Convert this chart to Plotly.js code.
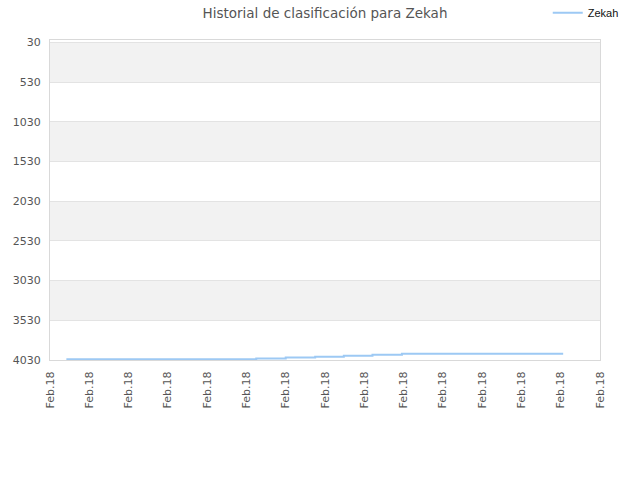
<!DOCTYPE html>
<html>
<head>
<meta charset="utf-8">
<script src="https://cdn.plot.ly/plotly-3.0.1.min.js"></script>
<style>html,body{margin:0;padding:0;background:#fff;}#chart{width:640px;height:480px;}</style>
</head>
<body>
<div id="chart"></div>
<script>
// Data
const seriesName = "Zekah";
const dates = [
  "2018-02-01 10:00", "2018-02-06 06:00", "2018-02-07 00:00", "2018-02-07 18:00",
  "2018-02-08 11:30", "2018-02-09 05:00", "2018-02-09 23:00", "2018-02-14 01:30"
];
const ranks = [4021, 4012, 4000, 3988, 3975, 3963, 3950, 3950];
const yTicks = [30, 530, 1030, 1530, 2030, 2530, 3030, 3530, 4030];
const xTicks = [
  "2018-02-01", "2018-02-02", "2018-02-03", "2018-02-04", "2018-02-05",
  "2018-02-06", "2018-02-07", "2018-02-08", "2018-02-09", "2018-02-10",
  "2018-02-11", "2018-02-12", "2018-02-13", "2018-02-14", "2018-02-15"
];
const xTickText = xTicks.map(() => "Feb.18");
const titleText = "Historial de clasificación para Zekah";

// alternating bands between y tick lines
const shapes = [];
for (let i = 0; i < yTicks.length - 1; i += 2) {
  shapes.push({
    type: "rect", xref: "paper", yref: "y", x0: 0, x1: 1,
    y0: yTicks[i], y1: yTicks[i + 1],
    fillcolor: "#f2f2f2", line: {width: 0}, layer: "below"
  });
}

const trace = {
  x: dates, y: ranks, type: "scatter", mode: "lines", name: seriesName,
  line: {color: "#9dc9f4", width: 2, shape: "hv"}
};

const layout = {
  width: 640, height: 480,
  margin: {l: 50, r: 40, t: 40, b: 120, autoexpand: false},
  paper_bgcolor: "#fff", plot_bgcolor: "#fff",
  font: {family: "DejaVu Sans", size: 11, color: "#555"},
  title: {text: titleText, x: 0.5, xref: "paper", y: 0.973, yanchor: "middle",
          font: {family: "DejaVu Sans", size: 13.5, color: "#555"}},
  showlegend: true,
  legend: {x: 0.905, xanchor: "left", y: 1.085, yanchor: "middle", bgcolor: "rgba(0,0,0,0)",
           font: {family: "Liberation Sans", size: 11, color: "#111"}, itemwidth: 30},
  xaxis: {
    type: "date", range: [xTicks[0], xTicks[xTicks.length - 1]],
    tickmode: "array", tickvals: xTicks, ticktext: xTickText, tickangle: -90,
    showgrid: false, zeroline: false, showline: true, mirror: true,
    linecolor: "#d9d9d9", linewidth: 1, ticks: "", ticklabelstandoff: 6,
    tickfont: {size: 11, color: "#555"}
  },
  yaxis: {
    range: [4030, 0], tickmode: "array", tickvals: yTicks,
    showgrid: true, gridcolor: "#e3e3e3", gridwidth: 1, zeroline: false,
    showline: true, mirror: true, linecolor: "#d9d9d9", linewidth: 1,
    ticks: "", ticklen: 0, ticklabelstandoff: 6, tickfont: {size: 11, color: "#555"}
  },
  shapes: shapes
};

Plotly.newPlot("chart", [trace], layout, {displayModeBar: false, staticPlot: true});
</script>
</body>
</html>
